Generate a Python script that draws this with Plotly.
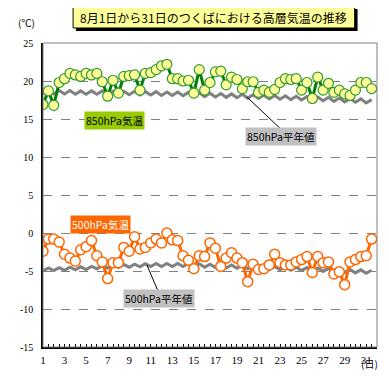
import plotly.graph_objects as go

days = list(range(1, 32))
hours = [0, 0.5]  # 09時, 21時 (half-day offset)

t850 = [16.9, 18.7, 16.8, 19.8, 20.3, 21.0, 20.8, 20.6, 21.0, 20.8,
        21.0, 19.9, 18.0, 20.1, 18.4, 20.6, 20.7, 20.8, 18.8, 21.0,
        21.1, 21.5, 22.0, 22.2, 20.3, 20.3, 20.0, 20.1, 18.4, 21.5,
        18.8, 19.8, 21.2, 21.3, 19.5, 20.5, 20.2, 19.0, 19.9, 19.9,
        18.5, 18.8, 18.5, 18.9, 19.8, 20.3, 20.2, 20.3, 18.8, 19.8,
        17.7, 20.5, 18.8, 19.7, 18.5, 18.8, 18.3, 18.1, 18.8, 19.8,
        19.8, 19.0]

norm850 = [18.3, 18.75, 18.3, 18.75, 18.3, 18.75, 18.25, 18.7, 18.25, 18.7,
           18.25, 18.7, 18.2, 18.65, 18.2, 18.65, 18.2, 18.65, 18.15, 18.6,
           18.15, 18.6, 18.1, 18.55, 18.1, 18.55, 18.05, 18.5, 18.0, 18.45,
           17.95, 18.4, 17.9, 18.35, 17.85, 18.3, 17.8, 18.25, 17.75, 18.2,
           17.7, 18.15, 17.65, 18.1, 17.6, 18.05, 17.55, 18.0, 17.5, 17.95,
           17.45, 17.9, 17.4, 17.85, 17.3, 17.75, 17.25, 17.7, 17.2, 17.65,
           17.1, 17.55]

t500 = [-2.4, -0.8, -0.8, -1.2, -2.8, -3.3, -3.7, -2.2, -1.8, -1.0,
        -3.0, -3.8, -6.0, -3.9, -3.9, -1.9, -2.4, -0.5, -2.1, -1.9,
        -1.3, -0.8, -1.3, 0.0, -0.9, -1.0, -3.0, -3.6, -4.7, -3.0,
        -3.1, -1.3, -2.0, -4.4, -3.3, -2.6, -3.3, -3.9, -6.4, -4.1,
        -4.8, -4.7, -4.2, -2.8, -3.9, -4.2, -4.2, -3.8, -3.5, -3.1,
        -5.2, -3.1, -3.9, -3.8, -5.4, -5.1, -6.8, -3.8, -3.5, -3.1,
        -3.0, -0.8]

norm500 = [-5.0, -4.6, -4.95, -4.55, -4.9, -4.5, -4.85, -4.45, -4.8, -4.4,
           -4.7, -4.3, -4.6, -4.2, -4.55, -4.15, -4.5, -4.1, -4.45, -4.05,
           -4.4, -4.0, -4.4, -4.0, -4.4, -4.0, -4.4, -4.0, -4.45, -4.05,
           -4.5, -4.1, -4.55, -4.15, -4.6, -4.2, -4.65, -4.25, -4.7, -4.3,
           -4.75, -4.35, -4.8, -4.4, -4.85, -4.45, -4.9, -4.5, -4.95, -4.55,
           -5.0, -4.6, -5.05, -4.65, -5.1, -4.7, -5.2, -4.8, -5.25, -4.85,
           -5.3, -4.9]

x_ticks = list(range(1, 32, 2))
y_ticks = [25, 20, 15, 10, 5, 0, -5, -10, -15]

x = [d + h for d in days for h in hours]

# page body has an 8px margin; size the figure so it ends at the window edge
OFF = 8
W = H = 389 - OFF
# plot-area edges in window pixels
SL, SR, ST, SB = 33, 377, 43, 347
L, R, T, B = SL - OFF, SR - OFF, ST - OFF, SB - OFF


def px(v):
    return (v - SL) / (SR - SL)


def py(v):
    return (SB - v) / (SB - ST)


fig = go.Figure()
fig.add_trace(go.Scatter(x=x, y=norm850, mode="lines",
                         line=dict(color="#808080", width=3), hoverinfo="skip"))
fig.add_trace(go.Scatter(x=x, y=norm500, mode="lines",
                         line=dict(color="#808080", width=3), hoverinfo="skip"))
fig.add_trace(go.Scatter(x=x, y=t850, mode="lines+markers",
                         line=dict(color="#008000", width=3),
                         marker=dict(size=10, color="#FFFF99",
                                     line=dict(color="#339933", width=1.2))))
fig.add_trace(go.Scatter(x=x, y=t500, mode="lines+markers",
                         line=dict(color="#FF6600", width=3),
                         marker=dict(size=10, color="white",
                                     line=dict(color="#FF6600", width=1.5))))

shapes = [
    dict(type="rect", xref="paper", yref="paper", x0=0, x1=1, y0=0, y1=1,
         line=dict(color="#808080", width=1), layer="above"),
    dict(type="rect", xref="paper", yref="paper", x0=px(67), x1=px(357),
         y0=py(31), y1=py(9), fillcolor="black", line=dict(width=0)),
    dict(type="rect", xref="paper", yref="paper", x0=px(64), x1=px(354),
         y0=py(28), y1=py(6), fillcolor="#FFFF99",
         line=dict(color="black", width=1)),
    dict(type="line", xref="paper", yref="paper", x0=px(243), y0=py(97),
         x1=px(279), y1=py(130), line=dict(color="black", width=1)),
    dict(type="line", xref="paper", yref="paper", x0=px(140), y0=py(265),
         x1=px(151), y1=py(290), line=dict(color="black", width=1)),
]

fnt = "Noto Sans CJK JP"
ann = [
    dict(x=px(209), y=py(17), text="8月1日から31日のつくばにおける高層気温の推移",
         font=dict(size=12, color="black", family=fnt)),
    dict(x=px(16), y=py(22), text="(℃)", font=dict(size=10, color="black", family=fnt)),
    dict(x=px(107), y=py(121), text="850hPa気温", bgcolor="#99CC00",
         font=dict(size=10.5, color="black", family=fnt), borderpad=1),
    dict(x=px(278), y=py(136), text="850hPa平年値", bgcolor="#C0C0C0",
         font=dict(size=10.5, color="black", family=fnt), borderpad=1),
    dict(x=px(92), y=py(224), text="500hPa気温", bgcolor="#FF6600",
         font=dict(size=10.5, color="white", family=fnt), borderpad=1),
    dict(x=px(152), y=py(298), text="500hPa平年値", bgcolor="#C0C0C0",
         font=dict(size=10.5, color="black", family=fnt), borderpad=1),
    dict(x=px(369), y=py(363), text="(日)", font=dict(size=10, color="black", family=fnt)),
]
for a in ann:
    a.update(xref="paper", yref="paper", showarrow=False, xanchor="center", yanchor="middle")

fig.update_layout(
    width=W, height=H,
    margin=dict(l=L, r=W - R, t=T, b=H - B, pad=0),
    paper_bgcolor="white", plot_bgcolor="white",
    showlegend=False,
    shapes=shapes, annotations=ann,
    xaxis=dict(range=[1, 32], tickvals=x_ticks, ticktext=[str(v) for v in x_ticks],
               showgrid=False, zeroline=False, showline=True, linecolor="black",
               linewidth=1.5, ticks="inside", ticklen=3, tickcolor="black",
               minor=dict(dtick=0.5, tick0=1, ticks="inside", ticklen=3,
                          tickcolor="black", showgrid=False),
               tickfont=dict(size=11, family="Liberation Serif", color="black"),
               ticklabelstandoff=2),
    yaxis=dict(range=[-15, 25], tickvals=y_ticks, ticktext=[str(v) for v in y_ticks],
               showgrid=True, gridcolor="#808080", griddash="dash", gridwidth=1,
               zeroline=False, showline=True, linecolor="black", linewidth=1.5,
               ticks="", tickfont=dict(size=10, family="Liberation Serif", color="black"),
               ticklabelstandoff=6),
)

fig.write_html("out.html")
